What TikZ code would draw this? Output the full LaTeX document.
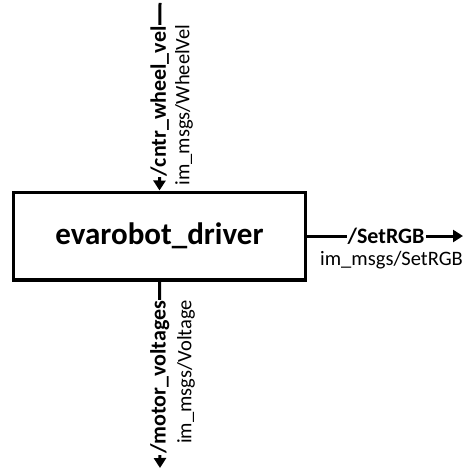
\documentclass[tikz,border=0pt]{standalone}
\usepackage{fontspec}
\setmainfont{Carlito}
\usetikzlibrary{arrows.meta, positioning}

\begin{document}
\begin{tikzpicture}[x=1pt, y=1pt,
  rosnode/.style={draw, line width=3.5pt, minimum width=292pt, minimum height=87.5pt, inner sep=0pt, font=\fontsize{31}{37}\selectfont\bfseries},
  conn/.style={line width=3pt, -{Triangle[length=10pt, width=12pt]}},
  topic/.style={fill=white, inner sep=1pt, font=\fontsize{22}{26}\selectfont\bfseries},
  msgtype/.style={inner sep=0pt, font=\fontsize{20.5}{24}\selectfont}]
  \useasboundingbox (0,0) rectangle (464,-470);

  \node[rosnode] (driver) at (159.5,-236) {evarobot\_driver};

  \coordinate (wheelin) at (160,-3);
  \coordinate (voltout) at (160,-468);
  \coordinate (rgbout) at (463,-236);

  % subscribed topic
  \draw[conn] (wheelin) -- (driver.north)
    node[topic, rotate=90, pos=0.524] (wheeltopic) {/cntr\_wheel\_vel};
  \node[msgtype, rotate=90, anchor=north] (wheeltype) at (175,-105) {im\_msgs/WheelVel};

  % published topics
  \draw[conn] (driver.south) -- (voltout)
    node[topic, rotate=90, pos=0.514] (volttopic) {/motor\_voltages};
  \node[msgtype, rotate=90, anchor=north] (volttype) at (177,-372) {im\_msgs/Voltage};

  \draw[conn] (driver.east) -- (rgbout)
    node[topic, pos=0.506] (rgbtopic) {/SetRGB};
  \node[msgtype, anchor=north] (rgbtype) at (391.5,-251) {im\_msgs/SetRGB};
\end{tikzpicture}
\end{document}
